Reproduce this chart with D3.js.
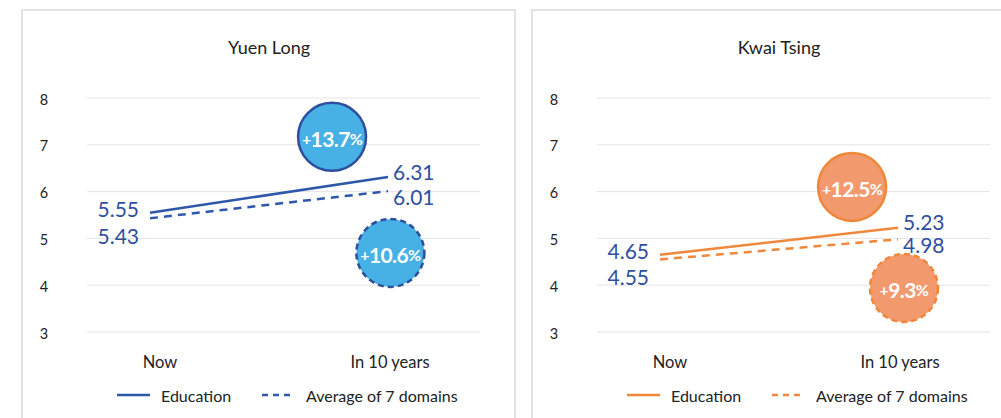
<!DOCTYPE html>
<html>
<head>
<meta charset="utf-8">
<script src="https://cdn.jsdelivr.net/npm/d3@7"></script>
<style>
  body { margin: 0; background: #fff; }
  svg { display: block; font-family: Lato, "Open Sans", sans-serif; }
</style>
</head>
<body>
<svg id="chart" width="1001" height="418"></svg>
<script>
const categories = ["Now", "In 10 years"];
const yTicks = [3, 4, 5, 6, 7, 8];
const districts = ["Yuen Long", "Kwai Tsing"];
const educationValues = [[5.55, 6.31], [4.65, 5.23]];
const averageValues = [[5.43, 6.01], [4.55, 4.98]];
const educationChange = ["13.7", "12.5"];
const averageChange = ["10.6", "9.3"];
// bubble anchors: [position between categories (0..1), value]
const educationBubble = [[0.765, 7.17], [0.807, 6.1]];
const averageBubble = [[1.01, 4.69], [1.025, 3.94]];
const seriesNames = ["Education", "Average of 7 domains"];

const palettes = [
  { line: "#2f58aa", fill: "#47b0e4", stroke: "#2d4f9e" },
  { line: "#f0883c", fill: "#f29a6d", stroke: "#ee873a" }
];
const labelColor = "#2f4f9f";

const svg = d3.select("#chart");
const panelW = 493, panelH = 430;

const x = d3.scaleLinear().domain([0, 1]).range([128, 366]);
const y = d3.scaleLinear().domain([3, 8]).range([322, 88]);

districts.forEach((name, i) => {
  const pal = palettes[i];
  const g = svg.append("g").attr("transform", `translate(${22 + i * 510},10)`);

  g.append("rect")
    .attr("width", panelW).attr("height", panelH)
    .attr("fill", "#fff").attr("stroke", "#e2e2e2").attr("stroke-width", 2);

  g.append("text")
    .attr("x", 247).attr("y", 37)
    .attr("text-anchor", "middle").attr("dominant-baseline", "central")
    .attr("font-size", 18).attr("fill", "#222")
    .text(name);

  // gridlines + y labels
  g.selectAll(".grid").data(yTicks).enter().append("line")
    .attr("x1", 65).attr("x2", 458)
    .attr("y1", (d) => y(d)).attr("y2", (d) => y(d))
    .attr("stroke", "#e4e4e4").attr("stroke-width", 1);

  g.selectAll(".ytick").data(yTicks).enter().append("text")
    .attr("x", 22).attr("y", (d) => y(d) + 1)
    .attr("text-anchor", "middle").attr("dominant-baseline", "central")
    .attr("font-size", 14.5).attr("fill", "#222")
    .text((d) => d);

  // category labels
  g.selectAll(".cat").data(categories).enter().append("text")
    .attr("x", (d, j) => x(j) + (j === 0 ? 10 : 2)).attr("y", 352)
    .attr("text-anchor", "middle").attr("dominant-baseline", "central")
    .attr("font-size", 16.5).attr("fill", "#222")
    .text((d) => d);

  const line = d3.line().x((d, j) => x(j)).y((d) => y(d));

  g.append("path").datum(educationValues[i])
    .attr("d", line).attr("fill", "none")
    .attr("stroke", pal.line).attr("stroke-width", 2.5);

  g.append("path").datum(averageValues[i])
    .attr("d", line).attr("fill", "none")
    .attr("stroke", pal.line).attr("stroke-width", 2.5)
    .attr("stroke-dasharray", "8,6");

  // value labels
  const valueFont = 21;
  const addLabels = (vals, dyStart, dyEnd) => {
    g.append("text")
      .attr("x", x(0) - 11).attr("y", y(vals[0]) + dyStart)
      .attr("text-anchor", "end").attr("dominant-baseline", "central")
      .attr("font-size", valueFont).attr("fill", labelColor)
      .text(vals[0].toFixed(2));
    g.append("text")
      .attr("x", x(1) + 5).attr("y", y(vals[1]) + dyEnd)
      .attr("text-anchor", "start").attr("dominant-baseline", "central")
      .attr("font-size", valueFont).attr("fill", labelColor)
      .text(vals[1].toFixed(2));
  };
  addLabels(educationValues[i], -4, -6);
  addLabels(averageValues[i], 17, 5);

  // bubbles
  const bubble = (pos, label, dashed) => {
    const b = g.append("g").attr("transform", `translate(${x(pos[0])},${y(pos[1])})`);
    b.append("circle").attr("r", 34)
      .attr("fill", pal.fill).attr("stroke", pal.stroke)
      .attr("stroke-width", 2.5)
      .attr("stroke-dasharray", dashed ? "6,4" : null);
    const t = b.append("text")
      .attr("y", 1)
      .attr("text-anchor", "middle").attr("dominant-baseline", "central")
      .attr("font-weight", "bold").attr("fill", "#fff")
      .attr("letter-spacing", -0.6);
    t.append("tspan").attr("font-size", 16).text("+");
    t.append("tspan").attr("font-size", 21).text(label);
    t.append("tspan").attr("font-size", 16).text("%");
  };
  bubble(educationBubble[i], educationChange[i], false);
  bubble(averageBubble[i], averageChange[i], true);

  // legend
  const lg = g.append("g").attr("transform", "translate(95,385)");
  seriesNames.forEach((s, k) => {
    const ox = k === 0 ? 0 : 145;
    lg.append("line")
      .attr("x1", ox).attr("x2", ox + 33).attr("y1", 0).attr("y2", 0)
      .attr("stroke", pal.line).attr("stroke-width", 2.5)
      .attr("stroke-dasharray", k === 1 ? "6,5" : null);
    lg.append("text")
      .attr("x", ox + 44).attr("y", 0)
      .attr("dominant-baseline", "central")
      .attr("font-size", 16).attr("fill", "#222")
      .text(s);
  });
});
</script>
</body>
</html>
